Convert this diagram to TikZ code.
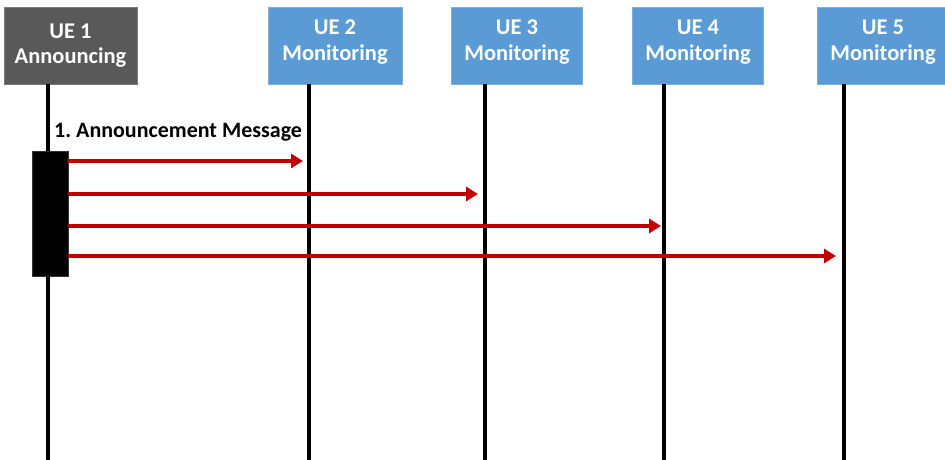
\documentclass[tikz,border=0pt]{standalone}
\usepackage{fontspec}
\setmainfont{Carlito}
\usetikzlibrary{positioning,arrows.meta}

\definecolor{uegray}{HTML}{595959}
\definecolor{ueblue}{HTML}{5B9BD5}
\definecolor{msgred}{HTML}{C00000}

\begin{document}
\frenchspacing
\begin{tikzpicture}[x=1pt, y=-1pt,
  st/.style={rectangle, minimum height=77pt, inner sep=0pt,
             align=center, text=white,
             font=\fontsize{22.5}{25.5}\selectfont\bfseries},
  sann/.style={st, fill=uegray, draw=uegray!80, line width=0.8pt, minimum width=133pt},
  smon/.style={st, fill=ueblue, draw=ueblue!80!white, line width=0.8pt, minimum width=131pt,
               execute at end node={\rule[-11pt]{0pt}{0pt}}},
  life/.style={line width=4pt, black},
  act/.style={rectangle, fill=black, draw=black!80, line width=0.6pt,
              minimum width=36pt, minimum height=125pt, inner sep=0pt},
  arr/.style={-{Triangle[length=12pt,width=14pt]}, line width=4pt, msgred},
  lbl/.style={font=\fontsize{22}{26}\selectfont\bfseries, inner sep=0pt}
]
\useasboundingbox (0,0) rectangle (945,460);

%% -- nodes ------------------------------------------------------------
\node[sann] (ue1) at (70.5,45.5) {UE 1\\Announcing};
\node[smon, minimum width=134pt] (ue2) at (335,45.5) {UE 2\\Monitoring};
\node[smon] (ue3) at (517,45.5) {UE 3\\Monitoring};
\node[smon] (ue4) at (698,45.5) {UE 4\\Monitoring};
\node[smon] (ue5) at (883,45.5) {UE 5\\Monitoring};

% lifeline ends
\coordinate (e1) at (48,460);
\coordinate (e2) at (309,460);
\coordinate (e3) at (485,460);
\coordinate (e4) at (664,460);
\coordinate (e5) at (844,460);

%% -- lifelines --------------------------------------------------------
\draw[life] (e1 |- ue1.south) -- (e1);
\draw[life] (e2 |- ue2.south) -- (e2);
\draw[life] (e3 |- ue3.south) -- (e3);
\draw[life] (e4 |- ue4.south) -- (e4);
\draw[life] (e5 |- ue5.south) -- (e5);

% activation on UE 1
\node[act] (ann) at (50,213.5) {};

%% -- messages ---------------------------------------------------------
\coordinate (m2) at (303,161);
\coordinate (m3) at (478,194);
\coordinate (m4) at (661,226);
\coordinate (m5) at (836,256);

\draw[arr] (ann.east |- m2) -- (m2);
\draw[arr] (ann.east |- m3) -- (m3);
\draw[arr] (ann.east |- m4) -- (m4);
\draw[arr] (ann.east |- m5) -- (m5);

\node[lbl, anchor=base west] (msg) at (54,137) {1. Announcement Message};

\end{tikzpicture}
\end{document}
